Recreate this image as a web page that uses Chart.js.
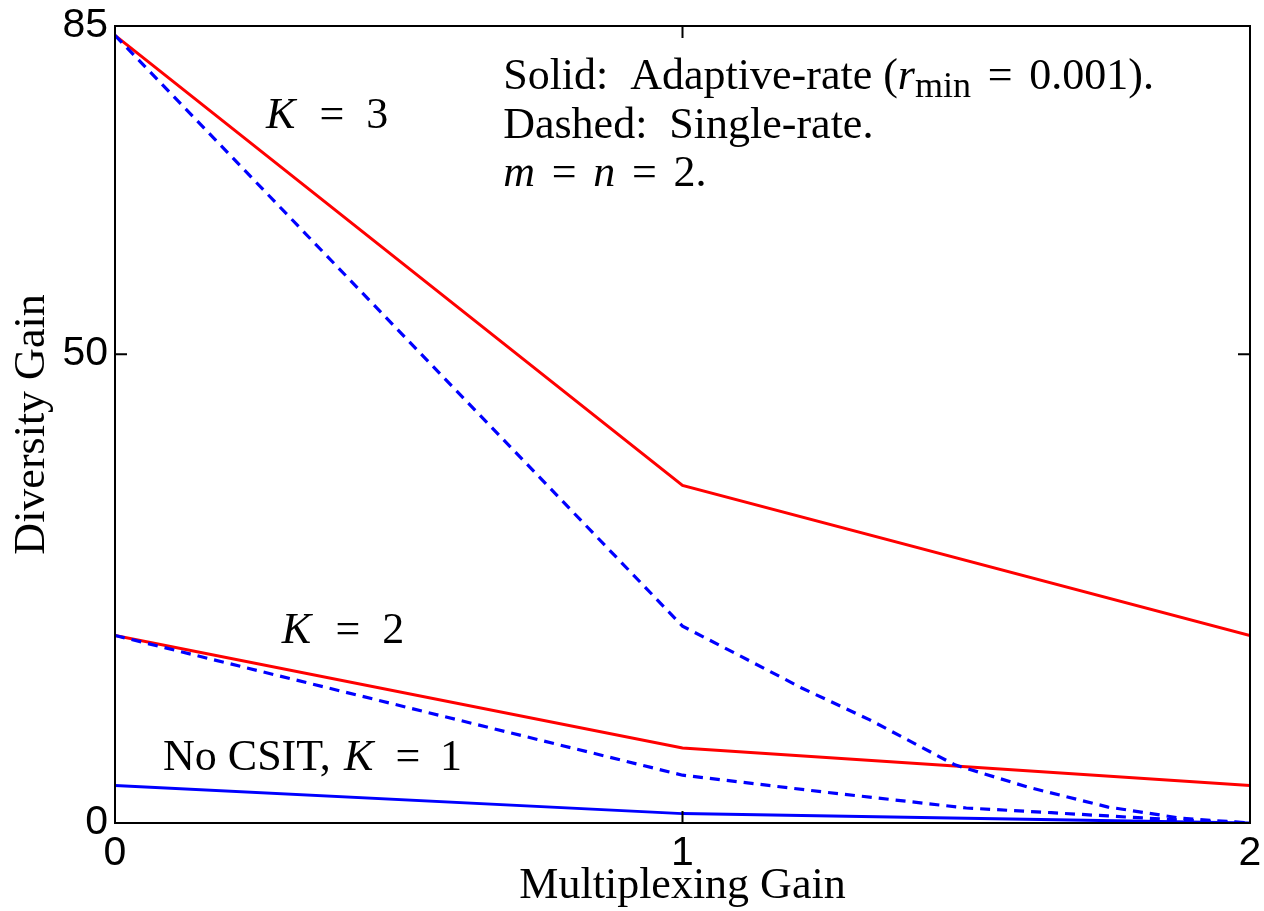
<!DOCTYPE html>
<html><head><meta charset="utf-8">
<style>html,body{margin:0;padding:0;background:#fff;}#wrap{width:1264px;height:911px;}</style>
<script src="https://cdn.jsdelivr.net/npm/chart.js@4"></script>
</head><body><div id="wrap"><canvas id="c" width="1264" height="911"></canvas></div>
<script>
// ---- data ----
const xTickValues = [0, 1, 2];
const yTickValues = [0, 50, 85];
const rateGrid = [0, 1, 2];
const k3Adaptive = [84, 36, 20];
const k2Adaptive = [20, 8, 4];
const k1NoCSIT = [4, 1, 0];
const k3SingleRate = [0, 1, 1.15, 1.21, 1.33, 1.48, 1.61, 1.75, 1.88, 2];
const k3Single = [84, 21, 16.3, 14.4, 11.0, 6.2, 3.8, 1.7, 0.5, 0];
const k2SingleRate = [0, 1, 1.25, 1.5, 1.65, 1.75, 1.88, 2];
const k2Single = [20, 5.1, 3.3, 1.6, 1.1, 0.75, 0.3, 0];

const pts = (xs, ys) => xs.map((x, i) => ({x: x, y: ys[i]}));

// annotation texts (anchored in data coordinates: left edge, baseline)
const annotations = [
  {x: 0.266, y: 74.1, segs: [{t: 'K', i: 1}, {t: '=', gap: 0.55}, {t: '3', gap: 0.5}]},
  {x: 0.294, y: 19.2, segs: [{t: 'K', i: 1}, {t: '=', gap: 0.55}, {t: '2', gap: 0.5}]},
  {x: 0.0846, y: 5.65, segs: [{t: 'No CSIT,'}, {t: 'K', i: 1, gap: 0.3}, {t: '=', gap: 0.5}, {t: '1', gap: 0.45}]},
  {x: 0.684, y: 78.3, segs: [{t: 'Solid:'}, {t: 'Adaptive-rate (', gap: 0.5}, {t: 'r', i: 1}, {t: 'min', sub: 1}, {t: '=', gap: 0.38}, {t: '0.001).', gap: 0.38}]},
  {x: 0.684, y: 73.1, segs: [{t: 'Dashed:'}, {t: 'Single-rate.', gap: 0.5}]},
  {x: 0.684, y: 67.9, segs: [{t: 'm', i: 1}, {t: '=', gap: 0.38}, {t: 'n', i: 1, gap: 0.38}, {t: '=', gap: 0.38}, {t: '2.', gap: 0.38}]}
];

const RED = '#ff0000', BLUE = '#0000ff';
const ANN_SIZE = 44;

function drawRich(ctx, x, y, segs, size) {
  let cx = x;
  ctx.textBaseline = 'alphabetic';
  ctx.textAlign = 'left';
  for (const s of segs) {
    cx += (s.gap || 0) * size;
    let fs = size, dy = 0, style = '';
    if (s.i) style = 'italic ';
    if (s.sub) { fs = size * 0.82; dy = size * 0.18; }
    ctx.font = style + fs + 'px "Liberation Serif"';
    ctx.fillText(s.t, cx, y + dy);
    cx += ctx.measureText(s.t).width;
  }
}

const framePlugin = {
  id: 'frame',
  afterDatasetsDraw(chart) {
    const {ctx, chartArea: a, scales} = chart;
    const xs = scales.x, ys = scales.y;
    ctx.save();
    ctx.strokeStyle = '#000';
    ctx.lineWidth = 2;
    ctx.strokeRect(a.left, a.top, a.right - a.left, a.bottom - a.top);
    const tl = 12;
    ctx.beginPath();
    xTickValues.forEach(v => {
      const px = xs.getPixelForValue(v);
      ctx.moveTo(px, a.bottom); ctx.lineTo(px, a.bottom - tl);
      ctx.moveTo(px, a.top); ctx.lineTo(px, a.top + tl);
    });
    yTickValues.forEach(v => {
      const py = ys.getPixelForValue(v);
      ctx.moveTo(a.left, py); ctx.lineTo(a.left + tl, py);
      ctx.moveTo(a.right, py); ctx.lineTo(a.right - tl, py);
    });
    ctx.stroke();
    ctx.fillStyle = '#000';
    annotations.forEach(an => {
      drawRich(ctx, xs.getPixelForValue(an.x), ys.getPixelForValue(an.y), an.segs, ANN_SIZE);
    });
    ctx.restore();
  }
};

new Chart(document.getElementById('c'), {
  type: 'line',
  data: {
    datasets: [
      {label: 'K=3 single-rate', data: pts(k3SingleRate, k3Single), borderColor: BLUE, borderWidth: 3.2, borderDash: [10, 7]},
      {label: 'K=2 single-rate', data: pts(k2SingleRate, k2Single), borderColor: BLUE, borderWidth: 3.2, borderDash: [10, 7]},
      {label: 'No CSIT K=1', data: pts(rateGrid, k1NoCSIT), borderColor: BLUE, borderWidth: 3},
      {label: 'K=3 adaptive', data: pts(rateGrid, k3Adaptive), borderColor: RED, borderWidth: 3},
      {label: 'K=2 adaptive', data: pts(rateGrid, k2Adaptive), borderColor: RED, borderWidth: 3}
    ]
  },
  options: {
    responsive: false,
    animation: false,
    elements: {point: {radius: 0}, line: {tension: 0, fill: false}},
    layout: {padding: {top: 26, right: 14, left: 0, bottom: 0}},
    plugins: {legend: {display: false}, tooltip: {enabled: false}},
    scales: {
      x: {
        type: 'linear', min: 0, max: 2,
        afterBuildTicks: s => { s.ticks = xTickValues.map(v => ({value: v})); },
        afterFit: s => { s.height = 88; s.paddingLeft = 0; s.paddingRight = 0; },
        grid: {display: false, drawTicks: false},
        border: {display: false},
        ticks: {autoSkip: false, maxRotation: 0, color: '#000', padding: 10, font: {family: 'Liberation Sans', size: 41, lineHeight: 1}},
        title: {display: true, text: 'Multiplexing Gain', color: '#000', padding: {top: 0, bottom: 0}, font: {family: 'Liberation Serif', size: 44, lineHeight: 1.1}}
      },
      y: {
        type: 'linear', min: 0, max: 85,
        afterBuildTicks: s => { s.ticks = yTickValues.map(v => ({value: v})); },
        afterFit: s => { s.width = 115; s.paddingTop = 0; s.paddingBottom = 0; },
        grid: {display: false, drawTicks: false},
        border: {display: false},
        ticks: {autoSkip: false, color: '#000', padding: 7, font: {family: 'Liberation Sans', size: 41, lineHeight: 1}},
        title: {display: true, text: 'Diversity Gain', color: '#000', padding: {top: 6, bottom: 0}, font: {family: 'Liberation Serif', size: 44, lineHeight: 1.2}}
      }
    }
  },
  plugins: [framePlugin]
});
</script></body></html>
